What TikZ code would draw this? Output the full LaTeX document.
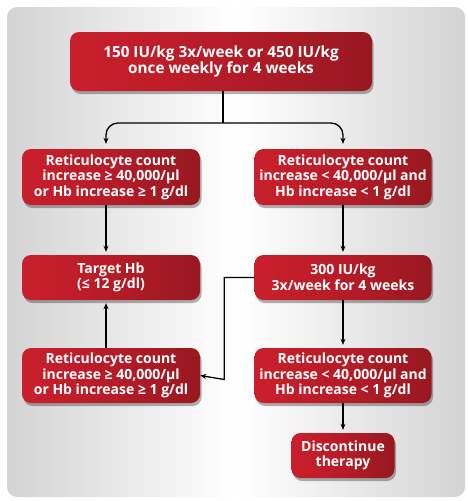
\documentclass[tikz,border=0pt]{standalone}
\usepackage{fontspec}
\setmainfont{Open Sans}
\usetikzlibrary{arrows.meta,shadows,positioning}
\definecolor{boxred}{HTML}{CA1F2C}
\definecolor{boxdark}{HTML}{981820}
\tikzset{
  box/.style={rounded corners=9pt, left color=boxred, right color=boxdark, middle color=boxred!90!black,
    text=white, font=\bfseries\fontsize{14}{15.6}\selectfont, align=center, inner sep=0pt,
    drop shadow={shadow xshift=1.5pt, shadow yshift=-3pt, opacity=0.3, fill=black}},
  bigtext/.style={font=\bfseries\fontsize{15.3}{15.5}\selectfont},
  conn/.style={line width=1.3pt, -{Stealth[length=6pt,width=5pt]}}
}
\begin{document}
\begin{tikzpicture}[x=1pt,y=-1pt]
\useasboundingbox (0,0) rectangle (467,501);
\shade[rounded corners=10pt, left color=black!17, right color=black!17, middle color=white] (7,7) rectangle (465,497);
\node[box, bigtext, minimum width=302pt, minimum height=59pt] (top) at (221,61.5) {150 IU/kg 3x/week or 450 IU/kg\\once weekly for 4 weeks};
\node[box, minimum width=178pt, minimum height=56pt] (l1) at (111,177) {Reticulocyte count\\increase ≥ 40,000/µl\\or Hb increase ≥ 1 g/dl};
\node[box, minimum width=177pt, minimum height=56pt] (r1) at (343,177) {Reticulocyte count\\increase < 40,000/µl and\\Hb increase < 1 g/dl};
\node[box, minimum width=178pt, minimum height=45pt] (l2) at (111,277.5) {Target Hb\\(≤ 12 g/dl)};
\node[box, minimum width=177pt, minimum height=45pt] (r2) at (343,277.5) {300 IU/kg\\3x/week for 4 weeks};
\node[box, minimum width=178pt, minimum height=55pt] (l3) at (111,375.5) {Reticulocyte count\\increase ≥ 40,000/µl\\or Hb increase ≥ 1 g/dl};
\node[box, minimum width=177pt, minimum height=55pt] (r3) at (343,375.5) {Reticulocyte count\\increase < 40,000/µl and\\Hb increase < 1 g/dl};
\node[box, minimum width=103pt, minimum height=45pt] (disc) at (343,455.5) {Discontinue\\therapy};
\coordinate (fork) at (223,123);
\draw[line width=1.3pt] (top.south -| fork) -- (fork);
\draw[conn, rounded corners=12pt, shorten >=5pt] (fork) -| ([xshift=-5pt]l1.north);
\draw[conn, rounded corners=12pt, shorten >=5pt] (fork) -| (r1.north);
\draw[conn, shorten >=3pt] ([xshift=-5pt]l1.south) -- ([xshift=-5pt]l2.north);
\draw[conn, shorten >=3pt] (r1.south) -- (r2.north);
\draw[conn, shorten >=3pt] (r2.south) -- (r3.north);
\draw[conn, shorten >=3pt] (r3.south) -- (disc.north);
\draw[conn, shorten >=3pt] ([xshift=-5pt]l3.north) -- ([xshift=-5pt]l2.south);
\draw[conn] (r2.west) -| ++(-30,102) -- (l3.east);
\end{tikzpicture}
\end{document}
